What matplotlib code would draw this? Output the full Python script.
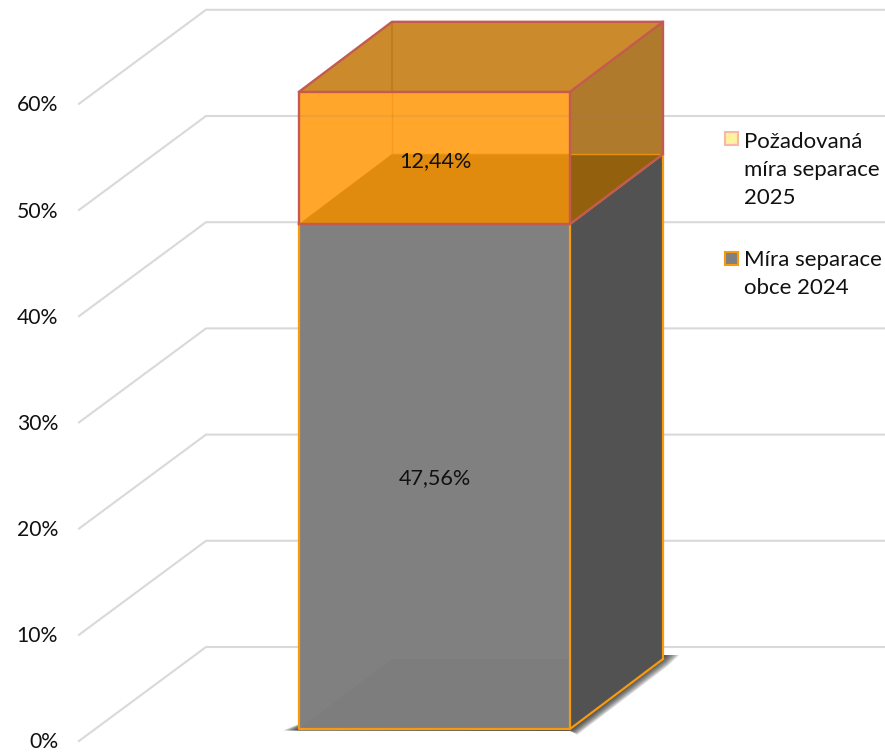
import matplotlib
matplotlib.use('Agg')
import matplotlib.pyplot as plt
from matplotlib.patches import Polygon, Rectangle

plt.rcParams['font.family'] = ['Lato', 'DejaVu Sans']

# Data
ticks = [0, 10, 20, 30, 40, 50, 60]
tick_labels = ['0%', '10%', '20%', '30%', '40%', '50%', '60%']
obec_2024 = 47.56
pozadovana_2025 = 12.44
labels = ['47,56%', '12,44%']
legend_names = ['Požadovaná\nmíra separace\n2025', 'Míra separace\nobce 2024']

# Geometry of the fake 3D box, x in pixels, y in percent
px_per_pct = 10.62
base_px = 729
x0, x1 = 299, 570
dx = 93
dy = 70 / px_per_pct


def y_from_px(py):
    return (base_px - py) / px_per_pct


def face(ax, pts, color, z, edge='none', lw=0, alpha=None):
    ax.add_patch(Polygon(pts, closed=True, facecolor=color, edgecolor=edge,
                         linewidth=lw, alpha=alpha, zorder=z, joinstyle='round'))


fig = plt.figure(figsize=(8.85, 7.52), dpi=100)
ax = fig.add_axes([0, 0, 1, 1])
ax.set_xlim(0, 885)
ax.set_ylim(y_from_px(752), y_from_px(0))
ax.axis('off')

# Gridlines: side wall + back wall
wall_front = y_from_px(741)
wall_back = y_from_px(647)
for t, lab in zip(ticks, tick_labels):
    ax.plot([79, 206, 884], [t + wall_front, t + wall_back, t + wall_back],
            color='#D9D9D9', lw=1.5, zorder=1, solid_joinstyle='miter')
    ax.text(58, t + wall_front - 1.5 / px_per_pct, lab, ha='right', va='center', fontsize=15.2,
            color='#111111', zorder=20)

# Soft shadow under the box
for k in range(1, 9):
    face(ax, [(x0 - 2 * k, y_from_px(730.5)), (x0 + 10, y_from_px(720)),
              (x1 + dx, y_from_px(655)), (x1 + dx + 2 * k, y_from_px(655)),
              (x1 + dx + 0.6 * k, y_from_px(657 + 1.1 * k)),
              (x1 + 1 + 0.8 * k, y_from_px(729 + 0.7 * k)),
              (x1, y_from_px(731))],
         '#202020', 2, alpha=0.17)

# Lower box (Míra separace obce 2024)
lo = 0
hi = obec_2024
top = hi + pozadovana_2025
face(ax, [(x1, lo), (x1 + dx, lo + dy), (x1 + dx, hi + dy), (x1, hi)], '#525252', 3)
face(ax, [(x0, lo), (x1, lo), (x1, hi), (x0, hi)], '#808080', 3)
# floor seen through the front
face(ax, [(x0, lo), (x1, lo), (x1, lo + dy), (x0 + dx, lo + dy)], '#7D7D7D', 3.1)
gold = '#F79A0E'
ax.plot([x0, x0, x1, x1, x1 + dx, x1 + dx], [hi, lo, lo, hi, hi + dy, lo + dy],
        color=gold, lw=1.6, zorder=4, solid_joinstyle='round')
ax.plot([x1, x1 + dx], [lo, lo + dy], color=gold, lw=1.6, zorder=4)

# Upper box (Požadovaná míra separace 2025)
face(ax, [(x0, top), (x0 + dx, top + dy), (x1 + dx, top + dy), (x1, top)], '#CB8A2B', 5)
face(ax, [(x1, hi), (x1 + dx, hi + dy), (x1 + dx, top + dy), (x1, top)], '#B07A2C', 5)
face(ax, [(x1, hi), (x1 + dx, hi + dy), (x1, hi + dy)], '#93600E', 5.1)
face(ax, [(x0, hi), (x1, hi), (x1, top), (x0, top)], '#FFA62B', 5)
face(ax, [(x0, hi), (x1, hi), (x1, hi + dy), (x0 + dx, hi + dy)], '#E08A0E', 5.1)
ax.plot([x0 + dx, x0 + dx], [hi + dy, top], color='#F59A1E', lw=1, zorder=5.2)
ax.plot([x0 + dx, x0 + dx], [top, top + dy], color='#BC7A1E', lw=1.2, zorder=5.2)
ax.plot([x0 + dx, x1 + dx], [hi + dy, hi + dy], color='#E8920F', lw=1, zorder=5.2)
# gridlines showing through
for t in [50, 60]:
    if t + wall_back < top + dy:
        ax.plot([x0, x1 + dx], [t + wall_back, t + wall_back], color='#808080',
                lw=1.5, alpha=0.12, zorder=5.3)

red = '#C45A50'
for seg in [([x0, x1, x1, x0, x0], [hi, hi, top, top, hi]),
            ([x0, x0 + dx, x1 + dx, x1], [top, top + dy, top + dy, top]),
            ([x1, x1 + dx, x1 + dx], [hi, hi + dy, top + dy])]:
    ax.plot(seg[0], seg[1], color=red, lw=1.7, zorder=6, solid_joinstyle='round')

# Value labels
ax.text(435, y_from_px(478), labels[0], ha='center', va='center', fontsize=15.6,
        color='#111111', zorder=20)
ax.text(435, y_from_px(161), labels[1], ha='center', va='center', fontsize=15.6,
        color='#111111', zorder=20)

# Legend
ax.add_patch(Rectangle((724.5, y_from_px(145)), 13, 13 / px_per_pct, facecolor='#FFF2A0',
                       edgecolor='#F8B8A8', lw=1.5, zorder=20))
ax.add_patch(Rectangle((724.5, y_from_px(265)), 13, 13 / px_per_pct, facecolor='#808080',
                       edgecolor=gold, lw=1.5, zorder=20))
ax.text(744, y_from_px(170), legend_names[0], ha='left', va='center', fontsize=16,
        color='#111111', linespacing=1.5, zorder=20)
ax.text(744, y_from_px(274), legend_names[1], ha='left', va='center', fontsize=16,
        color='#111111', linespacing=1.5, zorder=20)

fig.savefig('out.png', dpi=100)
